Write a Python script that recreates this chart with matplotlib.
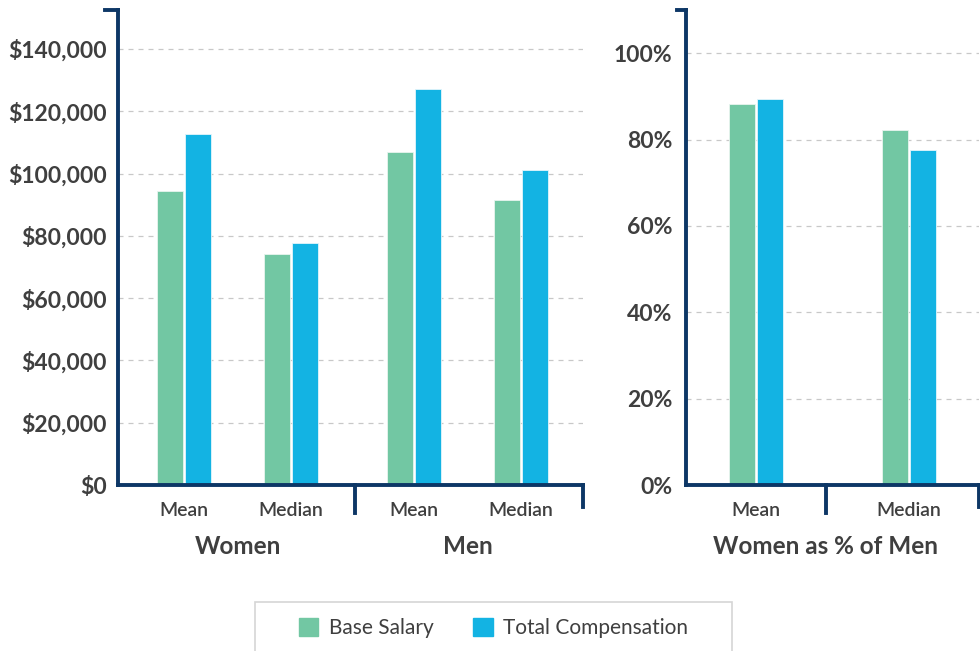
import matplotlib.pyplot as plt
from matplotlib import font_manager as fm
from matplotlib.patches import Patch, Rectangle
from matplotlib.ticker import FuncFormatter, MultipleLocator

plt.rcParams['font.family'] = ['Lato', 'DejaVu Sans']

# Pay figures in dollars
stats = ['Mean', 'Median']
women_base = [94500, 74300]
women_total = [112600, 77800]
men_base = [106800, 91400]
men_total = [127000, 101000]

# Women's pay as a percentage of men's
pct_base = [88.2, 82.2]
pct_total = [89.3, 77.5]

green = '#72c7a3'
blue = '#13b3e3'
navy = '#0d3766'
text_col = '#3f3f3f'
grid_col = '#c8c8c8'


def lato_face(weights):
    # pick a Lato file of the wanted weight, if one is installed
    for wt in weights:
        for f in fm.fontManager.ttflist:
            if f.name.startswith('Lato') and f.weight == wt and f.style == 'normal':
                return fm.FontProperties(fname=f.fname)
    return fm.FontProperties(family=['Lato', 'DejaVu Sans'], weight='bold')


semi = lato_face([600, 500])
bold = lato_face([700, 800])

fig = plt.figure(figsize=(9.8, 6.51), dpi=100)
ax1 = fig.add_axes([118 / 980, 1 - 485 / 651, 465 / 980, 475 / 651])
ax2 = fig.add_axes([686 / 980, 1 - 485 / 651, 293 / 980, 475 / 651])


def style_axis(ax, pad):
    for side in ['top', 'right']:
        ax.spines[side].set_visible(False)
    for side in ['left', 'bottom']:
        ax.spines[side].set_color(navy)
        ax.spines[side].set_linewidth(2.8)
        ax.spines[side].set_capstyle('projecting')
    ax.tick_params(length=0)
    ax.tick_params(axis='y', labelcolor=text_col, pad=pad)
    for lab in ax.get_yticklabels():
        lab.set_fontproperties(bold)
        lab.set_fontsize(16.5)
    ax.set_xticks([])
    ax.grid(axis='y', linestyle=(0, (4, 4)), color=grid_col, linewidth=0.9)
    ax.set_axisbelow(True)


def bracket(ax, x_div, top_len, div_len, end_len):
    kw = dict(color=navy, linewidth=2.8, clip_on=False, solid_capstyle='projecting')
    tr = ax.get_xaxis_transform()
    ax.plot([-top_len, 0], [1, 1], transform=ax.transAxes, **kw)
    ax.plot([x_div, x_div], [0, -div_len], transform=tr, **kw)
    ax.plot([1, 1], [0, -end_len], transform=ax.transAxes, **kw)


def label(ax, x, y, s, fp, size):
    ax.text(x, y, s, transform=ax.get_xaxis_transform(), ha='center', va='center',
            fontproperties=fp, fontsize=size, color=text_col)


# Left panel: salaries
pos = [0, 1, 2.15, 3.15]
off = 0.131
w = 0.243
base_vals = women_base + men_base
total_vals = women_total + men_total
ax1.bar([p - off for p in pos], base_vals, w, color=green, edgecolor='#e8f5ef', linewidth=0.6)
ax1.bar([p + off for p in pos], total_vals, w, color=blue, edgecolor='#e3f5fb', linewidth=0.6)
ax1.set_xlim(-0.617, 3.73)
ax1.set_ylim(0, 152500)
ax1.yaxis.set_major_locator(MultipleLocator(20000))
ax1.yaxis.set_major_formatter(FuncFormatter(lambda v, _: f'${v:,.0f}'))
style_axis(ax1, 8)
bracket(ax1, 1.598, 13 / 465, 28 / 475, 22 / 475)

for p, s in zip(pos, stats + stats):
    label(ax1, p, -0.053, s, semi, 14)
for x, name in [(0.5, 'Women'), (2.65, 'Men')]:
    label(ax1, x, -0.13, name, bold, 17.5)

# Right panel: women as % of men
pos2 = [0, 1]
off2 = 0.0915
w2 = 0.17
ax2.bar([p - off2 for p in pos2], pct_base, w2, color=green, edgecolor='#e8f5ef', linewidth=0.6)
ax2.bar([p + off2 for p in pos2], pct_total, w2, color=blue, edgecolor='#e3f5fb', linewidth=0.6)
ax2.set_xlim(-0.4575, 1.4575)
ax2.set_ylim(0, 110)
ax2.yaxis.set_major_locator(MultipleLocator(20))
ax2.yaxis.set_major_formatter(FuncFormatter(lambda v, _: f'{v:.0f}%'))
style_axis(ax2, 10)
bracket(ax2, 0.4575, 9 / 293, 28 / 475, 22 / 475)

for p, s in zip(pos2, stats):
    label(ax2, p, -0.053, s, semi, 14)
label(ax2, 0.4575, -0.13, 'Women as % of Men', bold, 17.5)

# Legend box running off the bottom edge
fig.patches.append(Rectangle((255 / 980, -0.05), 477 / 980, (651 - 602) / 651 + 0.05,
                             transform=fig.transFigure, facecolor='none',
                             edgecolor='#d5d5d5', linewidth=1.2))
handles = [Patch(color=green, label='Base Salary'), Patch(color=blue, label='Total Compensation')]
leg = fig.legend(handles=handles, loc='center', bbox_to_anchor=(493.5 / 980, 1 - 628 / 651),
                 ncol=2, frameon=False, fontsize=15, handlelength=0.95, handleheight=0.95,
                 handletextpad=0.5, columnspacing=1.9)
for t in leg.get_texts():
    t.set_color(text_col)

fig.savefig('out.png', dpi=100)
